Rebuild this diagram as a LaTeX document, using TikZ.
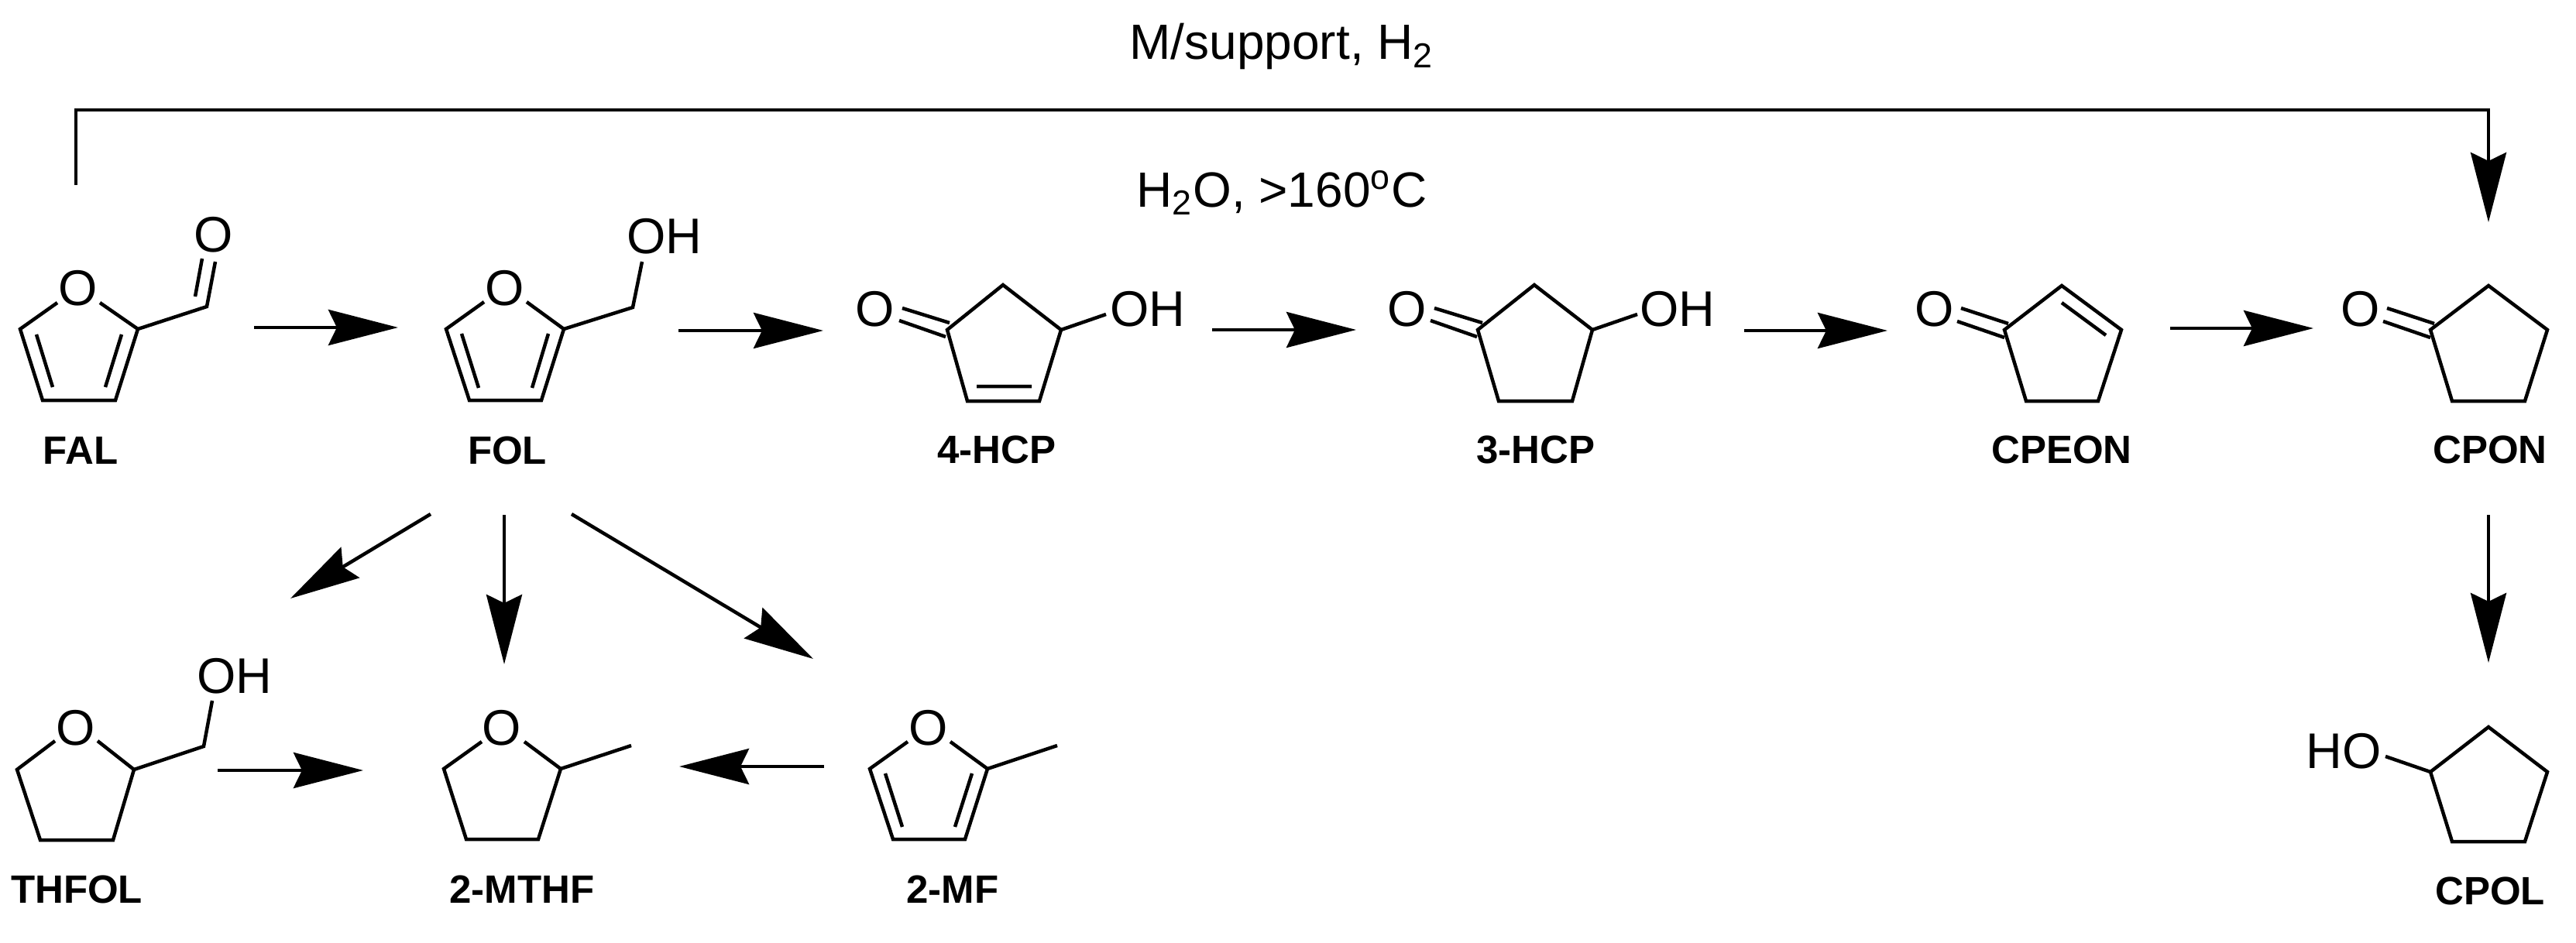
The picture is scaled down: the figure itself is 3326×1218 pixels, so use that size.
\documentclass[tikz,border=0pt]{standalone}
\usepackage{fontspec}
\setmainfont{Liberation Sans}
\usetikzlibrary{arrows.meta}
\tikzset{
    bond/.style={line width=0.045cm, line join=miter},
    rxn/.style={line width=0.045cm, -{Stealth[length=0.9cm, width=0.46cm, inset=0.11cm]}},
    atom/.style={inner sep=0pt, font=\fontsize{18.4}{22}\selectfont},
    cond/.style={inner sep=0pt, anchor=base, font=\fontsize{18.2}{22}\selectfont},
    molname/.style={inner sep=0pt, font=\fontsize{14.5}{17}\selectfont\bfseries},
}
\begin{document}
\begin{tikzpicture}[x=0.01cm, y=-0.01cm]
\useasboundingbox (0,0) rectangle (3326,1218);

\node[cond] (msup) at (1655,77) {M/support, H\textsubscript{2}};
\node[cond] (wat) at (1655,267) {H\textsubscript{2}O, >160\textsuperscript{o}C};

\foreach \n/\x/\y/\t in {fal/104/582/FAL, fol/655/582/FOL, hcpf/1287/581/4-HCP, hcpt/1983/581/3-HCP,
    cpeon/2662/581/CPEON, cpon/3215/581/CPON, thfol/99/1149/THFOL, mthf/674/1149/2-MTHF,
    mf/1230/1149/2-MF, cpol/3215/1151/CPOL}
    \node[molname] (\n) at (\x,\y) {\t};

\foreach \n/\x/\y/\t in {ofal/101/372/O, oald/276/303/O, ofol/652/372/O, ohfol/858/305/OH,
    ohcpf/1130/399/O, hhcpf/1482/399/OH, ohcpt/1817/399/O, hhcpt/2166/399/OH,
    ocpeon/2498/399/O, ocpon/3048/399/O, othfol/98/940/O, hthfol/303/873/OH,
    omthf/648/940/O, omf/1199/940/O, hcpol/3026/970/HO}
    \node[atom] (\n) at (\x,\y) {\t};

\foreach \n/\x/\y in {a1/328/423, a2/514/423, a3/876/427, a4/1063/427, a5/1565/426, a6/1751/426,
    a7/2252/427, a8/2437/427, a9/2802/424, a10/2987/424, b1/556/664, b2/375/773, b3/651/665,
    b4/651/858, b5/738/664, b6/1050/851, c1/281/995, c2/469/995, c3/1064/990, c4/877/990,
    d1/3213/665, d2/3213/856, e1/98/239, e2/98/142, e3/3213/142, e4/3213/287}
    \coordinate (\n) at (\x,\y);

% reaction arrows
\foreach \s/\e in {a1/a2, a3/a4, a5/a6, a7/a8, a9/a10, b1/b2, b3/b4, b5/b6, c1/c2, c3/c4, d1/d2}
    \draw[rxn] (\s) -- (\e);
\draw[rxn] (e1) -- (e2) -- (e3) -- (e4);

% FAL
\draw[bond] (74,391) -- (26,425) -- (55,517) -- (149,517) -- (178,425) -- (129,391);
\draw[bond] (47,432) -- (68,500) (157,432) -- (136,500);
\draw[bond] (178,425) -- (267,396) -- (278,338) (261,334) -- (252,383);

% FOL
\draw[bond] (625,390) -- (576,425) -- (606,517) -- (699,517) -- (728,425) -- (680,390);
\draw[bond] (596,431) -- (618,501) (708,431) -- (687,501);
\draw[bond] (728,425) -- (817,397) -- (829,338);

% 4-HCP
\draw[bond] (1223,426) -- (1295,368) -- (1370,426) -- (1342,518) -- (1249,518) -- cycle;
\draw[bond] (1261,499) -- (1332,499) (1370,426) -- (1428,406);
\draw[bond] (1165,398) -- (1226,417) (1161,414) -- (1221,435);

% 3-HCP
\draw[bond] (1908,426) -- (1981,368) -- (2056,426) -- (2030,518) -- (1935,518) -- cycle;
\draw[bond] (2056,426) -- (2114,406);
\draw[bond] (1852,398) -- (1914,417) (1847,414) -- (1907,435);

% CPEON
\draw[bond] (2588,426) -- (2662,369) -- (2739,426) -- (2709,518) -- (2616,518) -- cycle;
\draw[bond] (2662,391) -- (2719,433);
\draw[bond] (2532,398) -- (2593,418) (2527,415) -- (2588,436);

% CPON
\draw[bond] (3138,426) -- (3213,369) -- (3289,426) -- (3260,518) -- (3166,518) -- cycle;
\draw[bond] (3082,398) -- (3143,418) (3077,415) -- (3138,436);

% THFOL
\draw[bond] (71,957) -- (22,994) -- (52,1085) -- (146,1085) -- (173,994) -- (126,957);
\draw[bond] (173,994) -- (263,964) -- (274,905);

% 2-MTHF
\draw[bond] (622,958) -- (573,993) -- (602,1084) -- (695,1084) -- (724,993) -- (677,958);
\draw[bond] (724,993) -- (815,963);

% 2-MF
\draw[bond] (1172,958) -- (1123,993) -- (1153,1084) -- (1246,1084) -- (1275,993) -- (1227,958);
\draw[bond] (1143,999) -- (1165,1068) (1255,999) -- (1233,1068);
\draw[bond] (1275,993) -- (1365,963);

% CPOL
\draw[bond] (3138,997) -- (3213,939) -- (3289,997) -- (3260,1087) -- (3166,1087) -- cycle;
\draw[bond] (3138,997) -- (3080,977);
\end{tikzpicture}
\end{document}
